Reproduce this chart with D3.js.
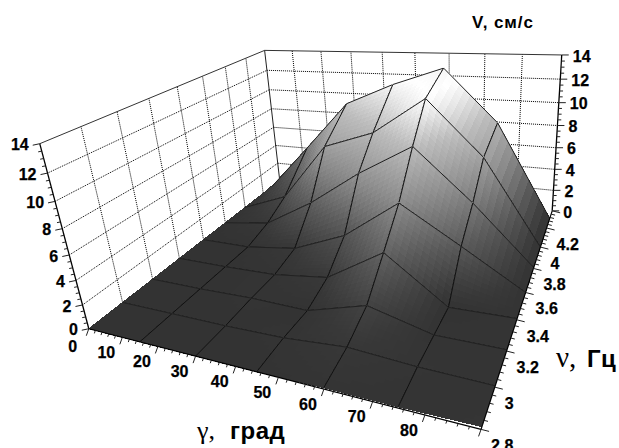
<!DOCTYPE html>
<html><head><meta charset="utf-8"><style>html,body{margin:0;background:#fff}svg{display:block}
text{font-family:"Liberation Sans",Arial,sans-serif;font-weight:bold;fill:#000}
.gk{font-family:"Liberation Serif",serif;font-weight:normal}</style>
<script src="https://cdn.jsdelivr.net/npm/d3@7"></script></head><body><svg id="c" width="619" height="448"></svg>
<script>
const gammaMesh=[0,15,30,45,60,75,90];
const nuMesh=[2.8,3,3.2,3.4,3.6,3.8,4,4.3];
const v00=[0,0,0,0,0,0,0,0];
const v15=[0,0,0,0,0,0.6,1.7,4.7];
const v30=[0,0,0.1,0.1,0.6,3.2,7.1,9.5];
const v45=[0,0.1,0,0.7,2.5,6.4,8.7,11.5];
const v60=[0.1,0.5,1.4,3.6,5.9,9.1,11.9,13.1];
const v75=[0.1,0.2,0.1,0,3,4.9,7.3,8.5];
const v90=[0.2,0.1,0.1,0.1,0,0.1,0,0.1];
const surface=[v00,v15,v30,v45,v60,v75,v90];
const gammaTicks=[0,10,20,30,40,50,60,70,80];
const nuTicks=[2.8,3,3.2,3.4,3.6,3.8,4,4.2];
const vTicks=[0,2,4,6,8,10,12,14];
const gDomain=[0,90],nDomain=[2.8,4.4],vDomain=[0,14];
const shadeV=[0,0.6,1.5,3,6,9,11,12,13.2];
const shadeC=["#333333","#383838","#444444","#5a5a5a","#8e8e8e","#bcbcbc","#ececec","#ffffff","#f4f4f4"];

const gS=d3.scaleLinear(gDomain,[0,1]),nS=d3.scaleLinear(nDomain,[0,1]),vS=d3.scaleLinear(vDomain,[0,1]);
const M=[271.083,332.329,-53.7156,88.8072,-7.49714,-56.9371,-201.82,328.719,-0.251889,0.505484,-0.116946];
function P(g,n,z){const u=gS(g),v=nS(n),w=vS(z),d=M[8]*u+M[9]*v+M[10]*w+1;
  return[(M[0]*u+M[1]*v+M[2]*w+M[3])/d,(M[4]*u+M[5]*v+M[6]*w+M[7])/d]}
const shade=d3.scaleLinear(shadeV,shadeC).clamp(true);
const svg=d3.select("#c"),line=d3.line();
function seg(a,b,o){svg.append("path").attr("d",line([a,b])).attr("fill","none").attr("stroke",o.c||"#000").attr("stroke-width",o.w||1).attr("stroke-dasharray",o.d||null)}
const dot={c:"#000",d:"1 1",w:1};
vTicks.forEach(z=>{if(z>0&&z<14){seg(P(0,2.8,z),P(0,4.4,z),dot);seg(P(0,4.4,z),P(90,4.4,z),dot)}});
nuTicks.slice(1).forEach(n=>seg(P(0,n,0),P(0,n,14),dot));
gammaTicks.slice(1).forEach(g=>seg(P(g,4.4,0),P(g,4.4,14),dot));
seg(P(0,2.8,14),P(0,4.4,14),{c:"#333"});seg(P(0,4.4,14),P(90,4.4,14),{c:"#333"});seg(P(0,4.4,14),P(0,4.4,0),{c:"#222"});
const sub=10;
const lerp=(a,b,t)=>a+(b-a)*t;
for(let j=nuMesh.length-2;j>=0;j--)for(let i=0;i<gammaMesh.length-1;i++){
  const g0=gammaMesh[i],g1=gammaMesh[i+1],n0=nuMesh[j],n1=nuMesh[j+1];
  const h=(s,t)=>lerp(lerp(surface[i][j],surface[i+1][j],s),lerp(surface[i][j+1],surface[i+1][j+1],s),t);
  const pt=(s,t)=>P(lerp(g0,g1,s),lerp(n0,n1,t),h(s,t));
  const cells=[];
  for(let a=sub-1;a>=0;a--)for(let b=0;b<sub;b++)cells.push([b/sub,a/sub]);
  svg.append("g").attr("shape-rendering","crispEdges").selectAll("path").data(cells).join("path")
    .attr("d",d=>{const[s,t]=d,e=1/sub;return line([pt(s,t),pt(s+e,t),pt(s+e,t+e),pt(s,t+e)])+"Z"})
    .attr("fill",d=>shade(h(d[0]+.5/sub,d[1]+.5/sub))).attr("stroke",d=>shade(h(d[0]+.5/sub,d[1]+.5/sub))).attr("stroke-width",1);
  const o=[pt(0,0),pt(1,0),pt(1,1),pt(0,1)];
  if(j>0)seg(o[0],o[1],{c:"#111"});
  if(i<gammaMesh.length-2)seg(o[1],o[2],{c:"#111"});
  if(i>0)seg(o[3],o[0],{c:"#111"});
  seg(o[2],o[3],{c:"#222"});
}
seg(P(0,2.8,0),P(0,2.8,14),{c:"#000",w:1.3});
seg(P(90,4.4,0),P(90,4.4,14),{c:"#000",w:1.3});
seg(P(0,2.8,0),P(90,2.8,0),{c:"#000",w:1.2});
seg(P(90,2.8,0),P(90,4.4,0),{c:"#000",w:1.2});
function off(p,dx,dy){return[p[0]+dx,p[1]+dy]}
d3.range(0,14.01,.5).forEach(z=>{const mj=z%2===0;
  let p=P(0,2.8,z);seg(p,off(p,mj?-7:-3.5,mj?1.5:.7),{c:"#222"});
  p=P(90,4.4,z);seg(p,off(p,mj?7:3.5,0),{c:"#222"});});
d3.range(0,91,2).forEach(g=>{const mj=g%10===0;const p=P(g,2.8,0);seg(p,off(p,mj?-2.5:-1,mj?7:3),{c:"#222"})});
d3.range(0,41).forEach(k=>{const n=2.8+k*.04,mj=k%5===0;const p=P(90,n,0);seg(p,off(p,mj?8:4,mj?2:1),{c:"#222"})});
function label(x,y,t,a){svg.append("text").attr("x",x).attr("y",y).attr("dy","0.36em").attr("text-anchor",a).attr("font-size",16).attr("stroke","#000").attr("stroke-width",.25).text(t)}
vTicks.forEach(z=>{let p=P(0,2.8,z);label(p[0]-11,p[1]+1,z,"end");p=P(90,4.4,z);label(p[0]+11,p[1]+1,z,"start")});
gammaTicks.forEach(g=>{const p=P(g,2.8,0);label(p[0]-16,p[1]+(g===0?18:15),g,"middle")});
nuTicks.forEach(n=>{const p=P(90,n,0);label(p[0]+10,p[1]+16,n,"start")});
svg.append("text").attr("x",472).attr("y",28).attr("font-size",17).attr("letter-spacing",.9).text("V, см/с");
function title(x,y,gk,rest,gap,fs,gs){svg.append("text").attr("class","gk").attr("x",x).attr("y",y).attr("font-size",gs).text(gk+",");
  svg.append("text").attr("x",x+gap).attr("y",y).attr("font-size",fs).attr("letter-spacing",.5).text(rest)}
title(197,439,"γ","град",33,24,26);
title(556,367,"ν","Гц",31,24,29);
</script></body></html>
